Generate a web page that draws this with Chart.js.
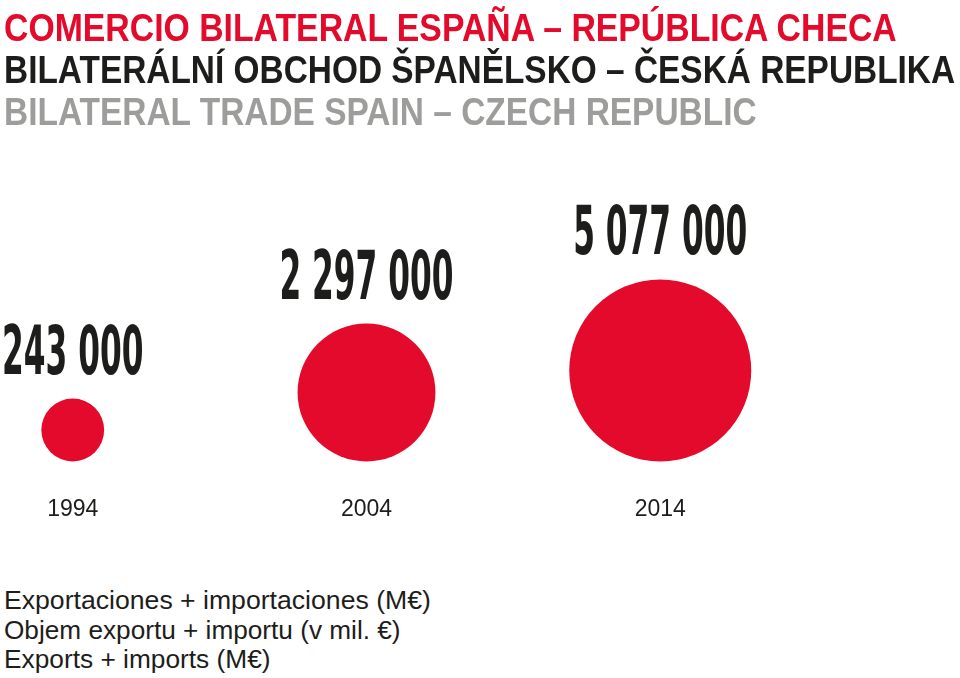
<!DOCTYPE html>
<html>
<head>
<meta charset="utf-8">
<script src="https://cdn.jsdelivr.net/npm/chart.js@4"></script>
<style>
  html, body { margin: 0; padding: 0; background: #fff; }
  #page { position: relative; width: 960px; height: 678px; overflow: hidden; }
  #bubbleChart { position: absolute; left: 0; top: 0; }
  .head, .foot { position: absolute; left: 4px; white-space: nowrap; font-family: "Liberation Sans", Arial, sans-serif;
          line-height: 1; transform-origin: 0 0; }
  .head { font-weight: bold; font-size: 39px; }
  .foot { font-size: 25px; color: #1d1d1b; }
</style>
</head>
<body>
<div id="page">
  <canvas id="bubbleChart" width="960" height="576"></canvas>
  <div class="head" style="top:8px;color:#e30a2c" data-w="893">COMERCIO BILATERAL ESPAÑA – REPÚBLICA CHECA</div>
  <div class="head" style="top:50px;color:#1d1d1b" data-w="951">BILATERÁLNÍ OBCHOD ŠPANĚLSKO – ČESKÁ REPUBLIKA</div>
  <div class="head" style="top:92px;color:#9d9d9c" data-w="753">BILATERAL TRADE SPAIN – CZECH REPUBLIC</div>
  <div class="foot" style="top:588px" data-w="427">Exportaciones + importaciones (M€)</div>
  <div class="foot" style="top:618px" data-w="397">Objem exportu + importu (v mil. €)</div>
  <div class="foot" style="top:647px" data-w="267">Exports + imports (M€)</div>
</div>
<script>
// datos del gráfico
var years = [1994, 2004, 2014];
var tradeValues = [243000, 2297000, 5077000];
var valueLabels = ["243 000", "2 297 000", "5 077 000"];

// ajustar ancho de los textos
document.querySelectorAll('.head, .foot').forEach(function (el) {
    var w = parseFloat(el.getAttribute('data-w'));
    el.style.transform = 'scaleX(' + (w / el.scrollWidth) + ')';
});

var maxValue = Math.max.apply(null, tradeValues);
var maxRadius = 91;
function radiusFor(v) {
    return maxRadius * Math.pow(v / maxValue, 0.35);
}

var bubbleData = years.map(function (y, i) {
    return { x: y, y: 0, r: radiusFor(tradeValues[i]) };
});

// apoyar las burbujas sobre la línea base y escribir los valores encima
var baselinePlugin = {
    id: 'baseline',
    beforeDatasetsDraw: function (chart) {
        var base = chart.scales.y.getPixelForValue(0);
        chart.getDatasetMeta(0).data.forEach(function (el) {
            el.y = base - el.options.radius;
        });
    },
    afterDatasetsDraw: function (chart) {
        var ctx = chart.ctx;
        ctx.save();
        ctx.fillStyle = '#1d1d1b';
        ctx.font = 'bold 68px "DejaVu Sans", sans-serif';
        ctx.textAlign = 'center';
        ctx.textBaseline = 'alphabetic';
        chart.getDatasetMeta(0).data.forEach(function (el, i) {
            var top = el.y - el.options.radius;
            ctx.save();
            ctx.translate(el.x, top - 25);
            ctx.scale(0.46, 1);
            ctx.fillText(valueLabels[i], 0, 0);
            ctx.restore();
        });
        ctx.restore();
    }
};

var ctx = document.getElementById('bubbleChart').getContext('2d');
var chart = new Chart(ctx, {
    type: 'bubble',
    data: {
        datasets: [{
            data: bubbleData,
            backgroundColor: '#e30a2c',
            borderWidth: 0,
            hoverBackgroundColor: '#e30a2c',
            clip: false
        }]
    },
    options: {
        responsive: false,
        animation: false,
        layout: { autoPadding: false, padding: { left: 14, right: 6, top: 150, bottom: 19 } },
        plugins: { legend: { display: false }, tooltip: { enabled: false } },
        scales: {
            x: {
                type: 'linear',
                min: 1992,
                max: 2024,
                afterBuildTicks: function (axis) {
                    axis.ticks = years.map(function (y) { return { value: y }; });
                },
                grid: { display: false, drawTicks: false },
                border: { display: false },
                ticks: {
                    padding: 34,
                    color: '#1d1d1b',
                    font: { family: '"Liberation Sans", Arial, sans-serif', size: 23 },
                    callback: function (v) { return String(v); }
                }
            },
            y: {
                display: false,
                min: 0,
                max: 1
            }
        }
    },
    plugins: [baselinePlugin]
});
</script>
</body>
</html>
